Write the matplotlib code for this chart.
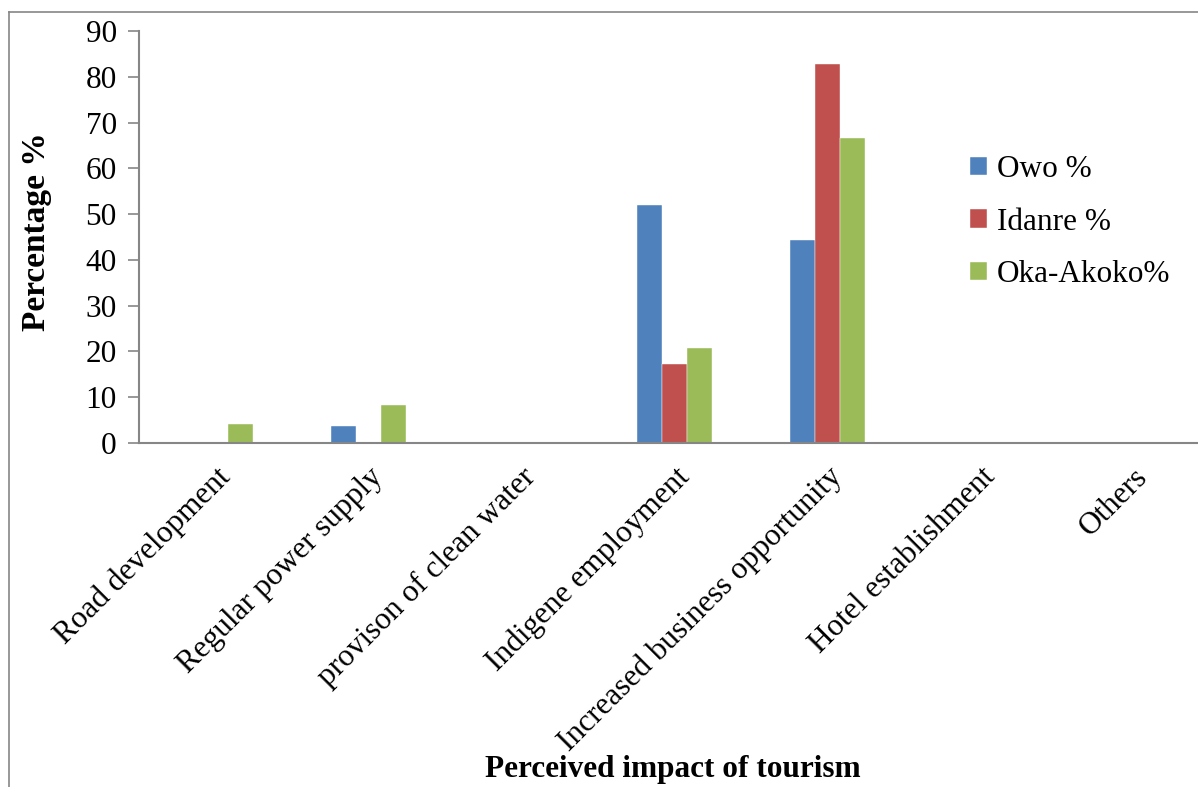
import numpy as np
import matplotlib
matplotlib.use("Agg")
import matplotlib.pyplot as plt
from matplotlib.lines import Line2D

categories = ["Road development", "Regular power supply", "provison of clean water",
              "Indigene employment", "Increased business opportunity",
              "Hotel establishment", "Others"]
owo = [0, 3.7, 0, 51.9, 44.4, 0, 0]
idanre = [0, 0, 0, 17.2, 82.8, 0, 0]
oka_akoko = [4.2, 8.3, 0, 20.8, 66.7, 0, 0]
series_names = ["Owo %", "Idanre %", "Oka-Akoko%"]

plt.rcParams['font.family'] = ['Liberation Serif', 'DejaVu Serif']

W, H = 1198, 787
fig = plt.figure(figsize=(W / 100, H / 100), dpi=100)

# axes placed in pixel terms; the right end runs past the picture edge
x0, x1, ytop, ybot = 139, 1210, 31, 443
ax = fig.add_axes([x0 / W, 1 - ybot / H, (x1 - x0) / W, (ybot - ytop) / H])

x = np.arange(len(categories))
w = 0.165
cols = ["#4F81BD", "#C0504D", "#9BBB59"]
for i, (vals, name) in enumerate(zip([owo, idanre, oka_akoko], series_names)):
    ax.bar(x + (i - 1) * w, vals, w, color=cols[i], label=name,
           edgecolor="white", linewidth=0.3)

fs = 22.5
ax.set_xlim(-0.5, len(categories) - 0.5)
ax.set_ylim(0, 90)
ax.set_yticks(range(0, 91, 10))
ax.set_xticks(x)
ax.set_xticklabels(categories, rotation=45, ha="right", va="top",
                   rotation_mode="anchor", fontsize=fs)
ax.tick_params(axis="x", length=0, pad=14)
ax.tick_params(axis="y", labelsize=fs, length=8, width=1.2, color="#868686", pad=8)

for s in ["top", "right"]:
    ax.spines[s].set_visible(False)
for s in ["left", "bottom"]:
    ax.spines[s].set_color("#868686")
    ax.spines[s].set_linewidth(1.5)

fig.text(37 / W, 1 - 232 / H, "Percentage %", rotation=90, fontsize=24,
         fontweight="bold", ha="center", va="center")
fig.text(673 / W, 1 - 770 / H, "Perceived impact of tourism", fontsize=fs,
         fontweight="bold", ha="center", va="center")

ax.legend(loc="upper left", bbox_to_anchor=(942 / W, 1 - 127 / H),
          bbox_transform=fig.transFigure, frameon=False, fontsize=fs,
          handlelength=0.55, handleheight=0.55, handletextpad=0.3,
          labelspacing=0.75)

# outer chart border
fig.add_artist(Line2D([9 / W, 9 / W], [0, 1 - 12 / H], color="#868686", lw=1.2))
fig.add_artist(Line2D([9 / W, 1], [1 - 12 / H, 1 - 12 / H], color="#868686", lw=1.2))

fig.savefig("out.png", dpi=100)
